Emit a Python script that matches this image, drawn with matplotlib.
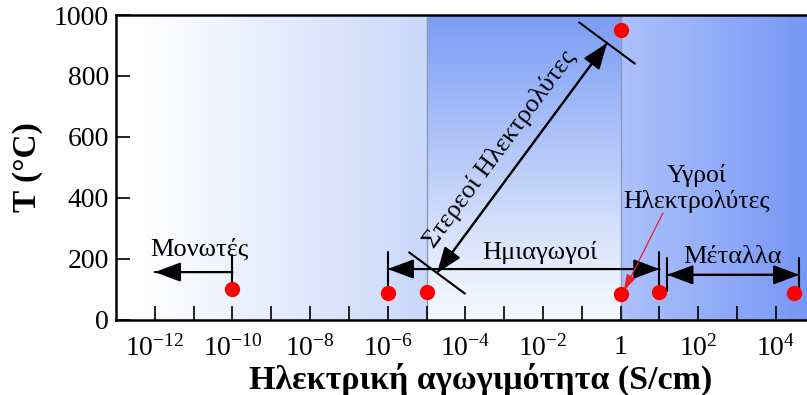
import numpy as np
import matplotlib
matplotlib.use('Agg')
import matplotlib.pyplot as plt
from matplotlib.colors import LinearSegmentedColormap

plt.rcParams['font.family'] = ['Liberation Serif', 'DejaVu Serif']
plt.rcParams['mathtext.fontset'] = 'custom'
plt.rcParams['mathtext.rm'] = 'Liberation Serif'
plt.rcParams['mathtext.it'] = 'Liberation Serif:italic'
plt.rcParams['mathtext.bf'] = 'Liberation Serif:bold'

# data points: conductivity (S/cm) and temperature (C)
sigma = [1e-10, 1e-6, 1e-5, 1, 1, 10, 3e4]
temp = [100, 90, 92, 85, 950, 92, 90]

tick_exp = list(range(-12, 5))
label_exp = [-12, -10, -8, -6, -4, -2, 0, 2, 4]
tick_labels = ['$10^{-12}$', '$10^{-10}$', '$10^{-8}$', '$10^{-6}$', '$10^{-4}$',
               '$10^{-2}$', '1', '$10^{2}$', '$10^{4}$']

xmin, xmax = 1e-13, 10**4.8
region_edges = [1e-13, 1e-5, 1, 10**4.8]

# ranges drawn with arrows
ins_range = (1e-10, 1e-12, 157)          # from, to, T
semi_range = (1e-6, 10, 167)
metal_range = (10**1.2, 10**4.6, 148)
solid_start = (10**-4.73, 154)
solid_end = (10**-0.35, 908)
liquid_text = (10**1.95, 430)
liquid_tip = (10**0.08, 95)
liquid_from = (10**1.09, 351)

fig = plt.figure(figsize=(8.07, 3.95), dpi=100)
ax = fig.add_axes([0.1437, 0.19, 0.8563, 0.772])
ax.set_xscale('log')
ax.set_xlim(xmin, xmax)
ax.set_ylim(0, 1000)

# background gradients
c1 = LinearSegmentedColormap.from_list('r1', [(0, 'white'), (0.08, 'white'), (1, '#c9d7f9')])
X = np.logspace(-13, -5, 201)
ax.pcolormesh(X, [0, 1000], np.linspace(0, 1, 200)[None, :], cmap=c1,
              shading='flat', antialiased=False, zorder=0)
c2 = LinearSegmentedColormap.from_list('r2', [(0, '#f5f8fe'), (0.15, '#e7eefc'), (1, '#7b9cf5')])
Y = np.linspace(0, 1000, 201)
ax.pcolormesh([1e-5, 1], Y, np.linspace(0, 1, 200)[:, None], cmap=c2,
              shading='flat', antialiased=False, zorder=0)
c3 = LinearSegmentedColormap.from_list('r3', ['#adc1fa', '#7797f5'])
X3 = np.logspace(0, 4.8, 201)
ax.pcolormesh(X3, [0, 1000], np.linspace(0, 1, 200)[None, :], cmap=c3,
              shading='flat', antialiased=False, zorder=0)

for xv in region_edges[1:3]:
    ax.axvline(xv, color='#8a9ab8', lw=1.0, zorder=1)

# points
ax.plot(sigma, temp, 'o', color='#ff0000', ms=11, mec='none', zorder=5, clip_on=False)

arrow_kw = dict(color='black', lw=1.5, shrinkA=0, shrinkB=0, mutation_scale=20)
head = 'head_length=0.8,head_width=0.3'


def double_arrow(x0, y0, x1, y1, bars=(True, True), bar_w=0.6):
    ax.annotate('', xy=(x1, y1), xytext=(x0, y0),
                arrowprops=dict(arrowstyle='<|-|>,' + head, **arrow_kw))
    wa = bar_w if bars[0] else 0
    wb = bar_w if bars[1] else 0
    ax.annotate('', xy=(x1, y1), xytext=(x0, y0),
                arrowprops=dict(arrowstyle=f'|-|,widthA={wa},widthB={wb}', **arrow_kw))


# insulators
ax.annotate('', xy=(ins_range[1], ins_range[2]), xytext=(ins_range[0], ins_range[2]),
            arrowprops=dict(arrowstyle='-|>,' + head, **arrow_kw))
ax.annotate('', xy=(ins_range[1], ins_range[2]), xytext=(ins_range[0], ins_range[2]),
            arrowprops=dict(arrowstyle='|-|,widthA=0.6,widthB=0', **arrow_kw))
ax.text(10**-10.84, 232, 'Μονωτές', fontsize=19, ha='center', va='center')

# semiconductors
double_arrow(semi_range[0], semi_range[2], semi_range[1], semi_range[2])
ax.text(10**-2.08, 222, 'Ημιαγωγοί', fontsize=19, ha='center', va='center')

# metals
double_arrow(metal_range[0], metal_range[2], metal_range[1], metal_range[2])
ax.text(10**2.89, 205, 'Μέταλλα', fontsize=19, ha='center', va='center')

# solid electrolytes
double_arrow(solid_start[0], solid_start[1], solid_end[0], solid_end[1], bar_w=1.25)
ax.text(10**-3.12, 560, 'Στερεοί Ηλεκτρολύτες', fontsize=19, ha='center', va='center',
        rotation=53.5, rotation_mode='anchor')

# liquid electrolytes
ax.text(liquid_text[0], liquid_text[1], 'Υγροί\nΗλεκτρολύτες', fontsize=18.5,
        ha='center', va='center', linespacing=1.15)
ax.annotate('', xy=liquid_tip, xytext=liquid_from,
            arrowprops=dict(arrowstyle='-|>,head_length=0.5,head_width=0.15',
                            color='#e8202a', lw=0.9, shrinkA=0, shrinkB=0, mutation_scale=20))

# axes styling
ax.set_xticks([10.0**e for e in tick_exp])
ax.set_xticklabels([tick_labels[label_exp.index(e)] if e in label_exp else '' for e in tick_exp])
ax.xaxis.set_minor_locator(matplotlib.ticker.NullLocator())
ax.set_yticks([0, 200, 400, 600, 800, 1000])
ax.tick_params(axis='both', direction='in', length=10, width=1.2, labelsize=20)
ax.tick_params(axis='x', top=False, pad=11)
ax.tick_params(axis='y', right=False, pad=5)
for s in ['left', 'bottom', 'top']:
    ax.spines[s].set_linewidth(1.8)
ax.spines['right'].set_visible(False)

ax.set_xlabel('Ηλεκτρική αγωγιμότητα (S/cm)', fontsize=24.5, fontweight='bold')
ax.xaxis.set_label_coords(0.527, -0.14)
ax.set_ylabel('T (°C)', fontsize=24, fontweight='bold', labelpad=8)

fig.savefig('out.png', dpi=100)
